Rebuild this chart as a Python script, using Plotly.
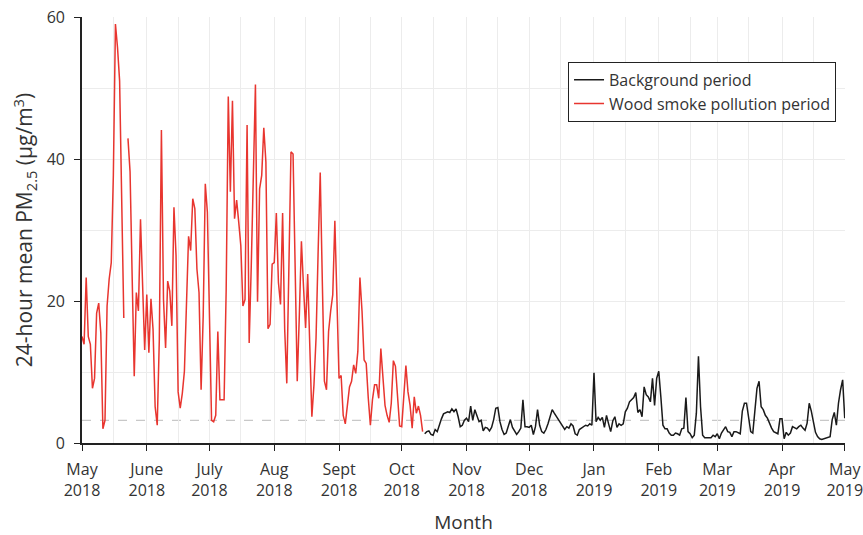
import pandas as pd
import plotly.graph_objects as go

# ---- data (daily 24-hour mean PM2.5, µg/m3) ----
wood_smoke_start = "2018-05-01"
wood_smoke_pm25 = [
    15.0, 13.9, 23.3, 15.0, 13.9, 7.7, 9.1, 18.3, 19.7, 15.5,
    2.0, 3.2, 19.3, 23.1, 25.4, 37.7, 59.0, 55.7, 51.0, 32.0,
    17.6, None, 42.9, 38.2, 23.5, 9.4, 21.2, 18.6, 31.5, 23.1,
    13.1, 20.9, 12.7, 20.3, 16.0, 5.1, 2.5, 14.6, 44.1, 20.2,
    13.4, 22.8, 21.4, 16.5, 33.2, 26.4, 7.2, 4.9, 7.0, 10.1,
    20.9, 29.1, 27.1, 34.4, 33.0, 24.5, 21.2, 7.5, 17.9, 36.5,
    32.5, 19.3, 3.2, 3.0, 3.9, 15.7, 6.1, 6.1, 6.1, 21.7,
    48.8, 35.4, 48.2, 31.6, 34.2, 31.1, 27.8, 19.3, 20.2, 44.8,
    14.1, 25.0, 38.0, 50.5, 19.9, 35.8, 37.7, 44.4, 39.6, 16.1,
    16.7, 25.2, 25.4, 32.4, 22.6, 19.5, 32.4, 16.0, 8.4, 24.7,
    41.0, 40.7, 25.0, 8.7, 18.0, 28.4, 22.0, 16.2, 23.8, 12.0,
    3.7, 8.2, 14.8, 27.0, 38.1, 22.8, 8.7, 7.5, 15.7, 18.6,
    20.9, 31.3, 18.6, 9.1, 9.5, 3.9, 2.7, 5.3, 7.9, 8.7,
    11.0, 9.8, 12.9, 23.3, 18.6, 11.7, 11.2, 6.3, 2.5, 6.1,
    8.2, 8.2, 6.3, 13.3, 9.1, 5.3, 3.9, 2.9, 5.6, 11.6,
    10.8, 5.8, 2.4, 2.3, 7.0, 10.9, 7.2, 5.3, 2.1, 6.5,
    4.2, 5.2, 3.9, 1.6,
]

background_start = "2018-10-12"
background_pm25 = [
    1.3, 1.6, 1.7, 1.2, 1.1, 1.9, 1.6, 2.7, 3.4, 4.1,
    4.2, 4.4, 4.3, 4.8, 4.4, 4.8, 3.7, 2.3, 2.5, 3.2,
    3.5, 3.0, 5.2, 3.2, 4.7, 3.9, 3.0, 3.2, 1.7, 2.2,
    2.1, 1.7, 2.2, 3.3, 4.9, 5.0, 3.0, 1.9, 1.2, 1.4,
    2.3, 3.3, 2.2, 1.6, 1.2, 1.6, 2.1, 6.1, 2.3, 2.3,
    2.2, 2.5, 1.2, 2.3, 4.7, 2.5, 1.6, 1.4, 1.9, 2.7,
    3.7, 4.7, 4.2, 3.7, 3.2, 2.7, 2.2, 1.9, 2.3, 2.1,
    2.7, 2.4, 1.3, 1.1, 1.9, 2.1, 2.2, 2.5, 2.4, 2.7,
    2.5, 9.9, 3.0, 3.6, 3.2, 3.6, 2.2, 3.9, 2.7, 1.6,
    3.1, 3.7, 2.2, 2.7, 2.5, 2.7, 4.4,
    4.9, 5.8, 6.1, 6.4, 7.1, 4.3, 4.7, 3.7, 7.9, 6.8,
    6.5, 5.8, 9.1, 5.3, 9.1, 10.1, 6.5, 2.5, 2.0, 2.0,
    1.4, 1.1, 1.1, 1.4, 1.3, 1.1, 2.0, 2.1, 6.4, 1.6,
    1.3, 0.75, 1.1, 4.2, 12.2, 5.1, 1.1, 0.75, 0.75, 0.75,
    0.75, 1.1, 0.9, 1.3, 0.6, 1.4, 1.9, 2.3, 1.6, 1.5,
    0.9, 1.6, 1.6, 1.4, 1.3, 4.5, 5.6, 5.6, 3.9, 1.6,
    1.4, 4.6, 7.7, 8.7, 5.1, 4.7, 3.9, 3.5, 2.7, 2.1,
    1.6, 1.5, 1.3, 3.4, 3.4, 0.6, 1.5, 1.1, 1.4, 2.3,
    2.1, 2.0, 2.3, 2.5, 2.1, 1.8, 2.8, 5.6, 4.5, 2.9,
    1.5, 0.9, 0.6, 0.5, 0.6, 0.6, 0.75, 0.9, 3.3, 4.3,
    2.5, 5.6, 7.5, 8.9, 3.5,
]

threshold = 3.2

month_ticks = ["2018-05-01", "2018-06-01", "2018-07-01", "2018-08-01", "2018-09-01",
               "2018-10-01", "2018-11-01", "2018-12-01", "2019-01-01", "2019-02-01",
               "2019-03-01", "2019-04-01", "2019-05-01"]
month_labels = ["May<br>2018", "June<br>2018", "July<br>2018", "Aug<br>2018", "Sept<br>2018",
                "Oct<br>2018", "Nov<br>2018", "Dec<br>2018", "Jan<br>2019", "Feb<br>2019",
                "Mar<br>2019", "Apr<br>2019", "May<br>2019"]
mid_month_ticks = ["2018-05-16", "2018-06-16", "2018-07-16", "2018-08-16", "2018-09-16",
                   "2018-10-16", "2018-11-16", "2018-12-16", "2019-01-16", "2019-02-16",
                   "2019-03-16", "2019-04-16"]

# ---- figure ----
wood_dates = pd.date_range(wood_smoke_start, periods=len(wood_smoke_pm25), freq="D")
bg_dates = pd.date_range(background_start, periods=len(background_pm25), freq="D")

FONT = "Open Sans"
TEXT = "#333333"
GRID = "#ececec"

fig = go.Figure()
fig.add_trace(go.Scatter(x=bg_dates, y=background_pm25, mode="lines",
                         name="Background period",
                         line=dict(color="#1a1a1a", width=1.5)))
fig.add_trace(go.Scatter(x=wood_dates, y=wood_smoke_pm25, mode="lines",
                         name="Wood smoke pollution period",
                         line=dict(color="#e8352f", width=1.5),
                         connectgaps=False))

fig.add_hline(y=threshold, line=dict(color="#c8c8c8", width=1.2, dash="dash"), layer="below")

fig.update_layout(
    width=863, height=535,
    margin=dict(l=82, r=18, t=17, b=92, autoexpand=False),
    paper_bgcolor="white", plot_bgcolor="white",
    font=dict(family=FONT, size=16, color=TEXT),
    showlegend=True,
    legend=dict(x=0.637, y=0.895, xanchor="left", yanchor="top",
                bordercolor="#222222", borderwidth=1, bgcolor="white",
                font=dict(family=FONT, size=16, color=TEXT),
                itemwidth=30, tracegroupgap=0),
    xaxis=dict(
        type="date",
        automargin=False,
        range=["2018-05-01", "2019-05-01 03:00"],
        tickmode="array", tickvals=month_ticks, ticktext=month_labels,
        ticks="outside", ticklen=6, tickcolor="#222222", tickwidth=1.2,
        ticklabelstandoff=5, ticklabeloverflow="allow",
        showline=True, linecolor="#222222", linewidth=1.6,
        showgrid=True, gridcolor=GRID, gridwidth=1,
        minor=dict(tickmode="array", tickvals=mid_month_ticks, showgrid=True,
                   gridcolor=GRID, gridwidth=1, ticks=""),
        zeroline=False,
        tickfont=dict(family=FONT, size=16, color=TEXT),
        title=dict(text="Month", font=dict(family=FONT, size=19, color=TEXT), standoff=23),
    ),
    yaxis=dict(
        automargin=False,
        range=[0, 60],
        tickmode="array", tickvals=[0, 20, 40, 60],
        ticks="outside", ticklen=6, tickcolor="#222222", tickwidth=1.2,
        ticklabelstandoff=6,
        showline=True, linecolor="#222222", linewidth=1.6,
        showgrid=True, gridcolor=GRID, gridwidth=1,
        minor=dict(dtick=10, tick0=0, showgrid=True, gridcolor=GRID, gridwidth=1, ticks=""),
        zeroline=False,
        tickfont=dict(family=FONT, size=16, color=TEXT),
        title=dict(text="24-hour mean PM<sub>2.5</sub> (µg/m<sup>3</sup>)",
                   font=dict(family=FONT, size=21, color=TEXT), standoff=8),
    ),
)

fig.write_html("out.html",
               config={"displayModeBar": False},
               post_script="document.body.style.margin='0';document.body.style.overflow='hidden';")
